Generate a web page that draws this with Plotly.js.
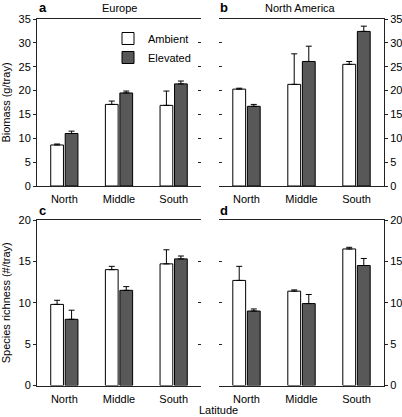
<!DOCTYPE html>
<html>
<head>
<meta charset="utf-8">
<script src="https://cdn.plot.ly/plotly-3.0.1.min.js"></script>
<style>html,body{margin:0;padding:0;background:#fff;}#chart{width:402px;height:417px;}</style>
</head>
<body>
<div id="chart"></div>
<script>
const categories = ["North", "Middle", "South"];
const seriesNames = ["Ambient", "Elevated"];

// Biomass (g/tray)
const europeAmbient = [8.6, 17.1, 16.9];
const europeAmbientSE = [0.2, 0.7, 3.0];
const europeElevated = [11.0, 19.5, 21.4];
const europeElevatedSE = [0.5, 0.4, 0.6];

const naAmbient = [20.3, 21.3, 25.5];
const naAmbientSE = [0.2, 6.4, 0.6];
const naElevated = [16.7, 26.1, 32.4];
const naElevatedSE = [0.4, 3.2, 1.1];

// Species richness (#/tray)
const europeRichAmbient = [9.8, 14.0, 14.7];
const europeRichAmbientSE = [0.5, 0.4, 1.7];
const europeRichElevated = [8.0, 11.5, 15.3];
const europeRichElevatedSE = [1.1, 0.45, 0.35];

const naRichAmbient = [12.7, 11.4, 16.5];
const naRichAmbientSE = [1.7, 0.15, 0.2];
const naRichElevated = [9.0, 9.9, 14.5];
const naRichElevatedSE = [0.25, 1.1, 0.85];

const biomassTicks = [0, 5, 10, 15, 20, 25, 30, 35];
const richnessTicks = [0, 5, 10, 15, 20];

const FONT = "Liberation Sans, Arial, sans-serif";
const ambientColor = "#ffffff";
const elevatedColor = "#585858";

function barTrace(vals, se, name, color, xa, ya, showLegend) {
  return {
    type: "bar",
    x: categories,
    y: vals,
    name: name,
    xaxis: xa,
    yaxis: ya,
    showlegend: showLegend,
    legendgroup: name,
    marker: {color: color, line: {color: "#000", width: 1}},
    error_y: {
      type: "data", symmetric: false,
      array: se, arrayminus: se.map(() => 0),
      color: "#000", thickness: 1, width: 3
    },
    hoverinfo: "skip"
  };
}

const data = [
  barTrace(europeAmbient, europeAmbientSE, seriesNames[0], ambientColor, "x", "y", true),
  barTrace(europeElevated, europeElevatedSE, seriesNames[1], elevatedColor, "x", "y", true),
  barTrace(naAmbient, naAmbientSE, seriesNames[0], ambientColor, "x2", "y2", false),
  barTrace(naElevated, naElevatedSE, seriesNames[1], elevatedColor, "x2", "y2", false),
  barTrace(europeRichAmbient, europeRichAmbientSE, seriesNames[0], ambientColor, "x3", "y3", false),
  barTrace(europeRichElevated, europeRichElevatedSE, seriesNames[1], elevatedColor, "x3", "y3", false),
  barTrace(naRichAmbient, naRichAmbientSE, seriesNames[0], ambientColor, "x4", "y4", false),
  barTrace(naRichElevated, naRichElevatedSE, seriesNames[1], elevatedColor, "x4", "y4", false)
];
// empty traces so that mirror (inside-tick) axes are drawn
[["x","y5"],["x2","y6"],["x3","y7"],["x4","y8"]].forEach(p => {
  data.push({type: "scatter", x: [], y: [], xaxis: p[0], yaxis: p[1], showlegend: false, hoverinfo: "skip"});
});

const W = 402, H = 417;
const colA = [37 / W, 201 / W];
const colB = [219 / W, 384 / W];
const rowTop = [1 - 186 / H, 1 - 19 / H];
const rowBot = [1 - 385.5 / H, 1 - 220 / H];

function xAx(domain, anchor) {
  return {
    domain: domain, anchor: anchor, type: "category",
    range: [-0.5, 2.5],
    showline: true, linecolor: "#222", linewidth: 1, mirror: true,
    ticks: "", showgrid: false, zeroline: false,
    ticklabelstandoff: 3,
    tickfont: {family: FONT, size: 11, color: "#000"},
    fixedrange: true
  };
}
function yAx(domain, anchor, side, ticks, maxv, title) {
  const a = {
    domain: domain, anchor: anchor, side: side,
    range: [0, maxv], tickvals: ticks, ticktext: ticks.map(String),
    showline: true, linecolor: "#222", linewidth: 1,
    ticks: "outside", ticklen: 3, tickcolor: "#222",
    showgrid: false, zeroline: false,
    tickfont: {family: FONT, size: 11, color: "#000"},
    fixedrange: true
  };
  if (title) {
    a.title = {text: title, font: {family: FONT, size: 11, color: "#000"}, standoff: 6};
  }
  return a;
}
function yMirror(over, anchor, side, ticks, maxv) {
  return {
    overlaying: over, anchor: anchor, side: side,
    range: [0, maxv], tickvals: ticks,
    showticklabels: false, showline: false,
    ticks: "inside", ticklen: 3, tickcolor: "#222",
    showgrid: false, zeroline: false, fixedrange: true
  };
}

const layout = {
  width: W, height: H,
  margin: {l: 0, r: 0, t: 0, b: 0},
  paper_bgcolor: "#fff", plot_bgcolor: "#fff",
  font: {family: FONT, size: 11, color: "#000"},
  barmode: "group", bargap: 0.47, bargroupgap: 0.12,
  showlegend: true,
  legend: {
    x: 108 / W, y: 1 - 24 / H, xanchor: "left", yanchor: "top",
    bgcolor: "rgba(0,0,0,0)", borderwidth: 0,
    font: {family: FONT, size: 11, color: "#000"},
    tracegroupgap: 0, itemwidth: 30
  },
  xaxis: xAx(colA, "y"),
  xaxis2: xAx(colB, "y2"),
  xaxis3: xAx(colA, "y3"),
  xaxis4: xAx(colB, "y4"),
  yaxis: yAx(rowTop, "x", "left", biomassTicks, 35, "Biomass (g/tray)"),
  yaxis2: yAx(rowTop, "x2", "right", biomassTicks, 35, null),
  yaxis3: yAx(rowBot, "x3", "left", richnessTicks, 20, "Species richness (#/tray)"),
  yaxis4: yAx(rowBot, "x4", "right", richnessTicks, 20, null),
  yaxis5: yMirror("y", "x", "right", biomassTicks, 35),
  yaxis6: yMirror("y2", "x2", "left", biomassTicks, 35),
  yaxis7: yMirror("y3", "x3", "right", richnessTicks, 20),
  yaxis8: yMirror("y4", "x4", "left", richnessTicks, 20),
  annotations: [
    {text: "<b>a</b>", x: 37 / W, y: 1 - 8 / H, xref: "paper", yref: "paper", xanchor: "left", yanchor: "middle", showarrow: false, font: {family: FONT, size: 13}},
    {text: "Europe", x: 119 / W, y: 1 - 8 / H, xref: "paper", yref: "paper", xanchor: "center", yanchor: "middle", showarrow: false, font: {family: FONT, size: 11}},
    {text: "<b>b</b>", x: 218 / W, y: 1 - 8 / H, xref: "paper", yref: "paper", xanchor: "left", yanchor: "middle", showarrow: false, font: {family: FONT, size: 13}},
    {text: "North America", x: 300 / W, y: 1 - 8 / H, xref: "paper", yref: "paper", xanchor: "center", yanchor: "middle", showarrow: false, font: {family: FONT, size: 11}},
    {text: "<b>c</b>", x: 37 / W, y: 1 - 211 / H, xref: "paper", yref: "paper", xanchor: "left", yanchor: "middle", showarrow: false, font: {family: FONT, size: 13}},
    {text: "<b>d</b>", x: 218 / W, y: 1 - 211 / H, xref: "paper", yref: "paper", xanchor: "left", yanchor: "middle", showarrow: false, font: {family: FONT, size: 13}},
    {text: "Latitude", x: 218 / W, y: 1 - 410 / H, xref: "paper", yref: "paper", xanchor: "center", yanchor: "middle", showarrow: false, font: {family: FONT, size: 11}}
  ]
};

Plotly.newPlot("chart", data, layout, {displayModeBar: false, staticPlot: true});
</script>
</body>
</html>
